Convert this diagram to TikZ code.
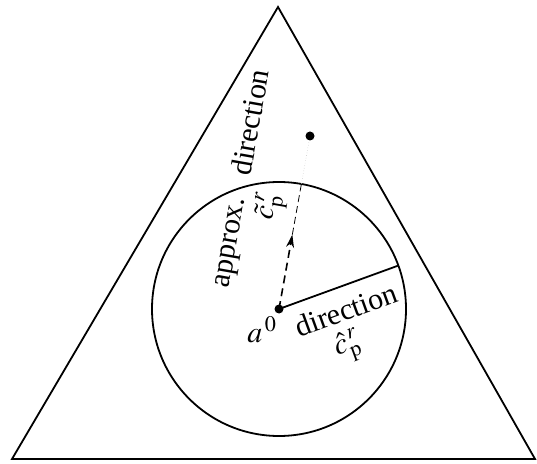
\documentclass[tikz,border=0pt]{standalone}
\usepackage{mathptmx}
\usepackage{fontspec}
\setmainfont{Liberation Serif}
\usetikzlibrary{calc,arrows.meta}
\begin{document}
\begin{tikzpicture}[x=1pt,y=1pt,line width=1.8pt,
  dot/.style={circle,fill,inner sep=0pt,minimum size=9pt},
  lbl/.style={font=\fontsize{30}{36}\selectfont,inner sep=0pt}]
 \useasboundingbox (0,0) rectangle (537,463);
 % simplex and ball
 \coordinate (apex) at (278,456);
 \coordinate (bl) at (12,4);
 \coordinate (br) at (535,4);
 \draw[line join=miter] (bl)--(apex)--(br)--cycle;
 \node[dot] (a0) at (279,154) {};
 \node[dot] (pt) at (310,327) {};
 \draw (a0.center) circle[radius=127];
 % directions
 \coordinate (edge) at ($(a0.center)+(20:127)$);
 \coordinate (tip) at ($(a0.center)!0.43!(pt.center)$);
 \coordinate (rim) at ($(a0.center)!0.723!(pt.center)$);
 \draw (a0.center)--(edge);
 \draw[line width=1.6pt,dash pattern=on 8pt off 5pt,-{Stealth[length=13pt,width=8pt]}] (a0.center)--(tip);
 \draw[line width=0.8pt,dash pattern=on 7pt off 4pt] (tip)--(rim);
 \draw[line width=0.6pt,gray!40,dotted] (rim)--(pt);
 % labels
 \node[lbl] (alab) at (262,133) {$a^{\,0}$};
 \node[lbl,rotate=20] (dlow) at (346,153) {direction};
 \node[lbl,rotate=20] (chat) at (348,116) {$\hat{c}_{\mathrm{p}}^{\,r}$};
 \node[lbl,rotate=80] (apx) at (233,220) {approx.};
 \node[lbl,rotate=80] (dup) at (250,341) {direction};
 \node[lbl,rotate=80] (ctil) at (270,256) {$\tilde{c}_{\mathrm{p}}^{\,r}$};
\end{tikzpicture}
\end{document}
